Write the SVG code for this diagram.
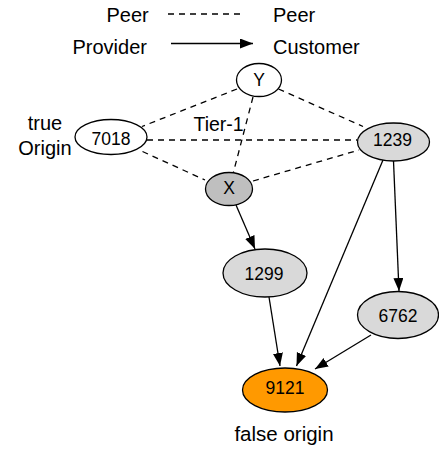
<svg xmlns="http://www.w3.org/2000/svg" width="439" height="449" viewBox="0 0 439 449">
<style>
text{font-family:"Liberation Sans",Arial,Helvetica,sans-serif;fill:#000}
.lbl{font-size:20px}
.nt{font-size:17.5px;text-anchor:middle}
.node ellipse{stroke:#000;stroke-width:1.3}
.peer{stroke:#000;stroke-width:1.3;stroke-dasharray:6 5;fill:none}
.pc{stroke:#000;stroke-width:1.3;fill:none;marker-end:url(#arr)}
</style>
<defs>
<marker id="arr" markerUnits="userSpaceOnUse" markerWidth="14" markerHeight="11" refX="13" refY="5" orient="auto">
<path d="M0,0 L13,5 L0,10 z" fill="#000"/>
</marker>
</defs>
<rect width="439" height="449" fill="#fff"/>
<g id="legend">
<text class="lbl" x="106.5" y="21.5">Peer</text>
<line class="peer" x1="168" y1="14" x2="245" y2="14"/>
<text class="lbl" x="273" y="21.5">Peer</text>
<text class="lbl" x="72.5" y="53.5">Provider</text>
<line class="pc" x1="171" y1="43.5" x2="253" y2="43.5"/>
<text class="lbl" x="273" y="53.5">Customer</text>
</g>
<g id="connectors">
<line class="peer" x1="237" y1="89" x2="142" y2="126.5"/>
<line class="peer" x1="278.5" y1="89" x2="363" y2="126.5"/>
<line class="peer" x1="253" y1="97" x2="233" y2="174"/>
<line class="peer" x1="147" y1="140" x2="357.5" y2="140"/>
<line class="peer" x1="142.5" y1="151.5" x2="205" y2="180"/>
<line class="peer" x1="253" y1="181" x2="359" y2="150"/>
<line class="pc" x1="236" y1="205" x2="255" y2="249"/>
<line class="pc" x1="383" y1="160" x2="296.5" y2="366"/>
<line class="pc" x1="393.5" y1="161" x2="399" y2="291"/>
<line class="pc" x1="269" y1="297" x2="280" y2="366"/>
<line class="pc" x1="371" y1="335" x2="315" y2="369"/>
</g>
<g id="node-Y" class="node"><ellipse cx="259" cy="80" rx="22.5" ry="16.5" fill="#fff"/><text class="nt" x="259" y="86">Y</text></g>
<g id="node-7018" class="node"><ellipse cx="111" cy="137" rx="36" ry="17.5" fill="#fff"/><text class="nt" x="111" y="145">7018</text></g>
<g id="node-1239" class="node"><ellipse cx="393.5" cy="142" rx="36" ry="19" fill="#d9d9d9"/><text class="nt" x="392.5" y="146">1239</text></g>
<g id="node-X" class="node"><ellipse cx="229" cy="189" rx="23.5" ry="16.5" fill="#bfbfbf"/><text class="nt" x="229" y="193.5">X</text></g>
<g id="node-1299" class="node"><ellipse cx="265" cy="273" rx="42" ry="24" fill="#d9d9d9"/><text class="nt" x="264" y="280">1299</text></g>
<g id="node-6762" class="node"><ellipse cx="398" cy="315" rx="40.5" ry="23.5" fill="#d9d9d9"/><text class="nt" x="398" y="321.5">6762</text></g>
<g id="node-9121" class="node"><ellipse cx="285" cy="390" rx="42.5" ry="22" fill="#ff9900"/><text class="nt" x="285" y="393.5">9121</text></g>
<g id="labels">
<text class="lbl" x="45" y="130" text-anchor="middle">true</text>
<text class="lbl" x="45" y="155" text-anchor="middle">Origin</text>
<text x="193.5" y="131" style="font-size:19.5px">Tier-1</text>
<text x="284" y="441" text-anchor="middle" style="font-size:20.5px">false origin</text>
</g>
</svg>
